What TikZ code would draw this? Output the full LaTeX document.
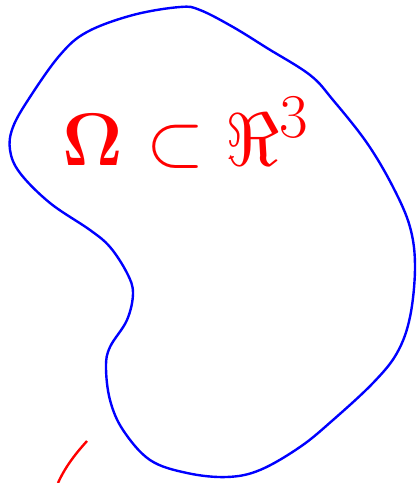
\documentclass[tikz,border=0pt]{standalone}
\usepackage{amsmath}
\begin{document}
\begin{tikzpicture}[x=1pt,y=-1pt,
  region/.style={draw=blue,line width=2.4pt},
  cut/.style={draw=red,line width=2.4pt},
  label/.style={text=red,font=\Huge,inner sep=0pt,scale=3.0}]
\useasboundingbox (0,0) rectangle (416,483);
\draw[region] plot[smooth cycle,tension=0.6] coordinates {
 (13,127) (30,97) (60,55) (87,32) (133,15) (180,7) (200,10) (233,27)
 (267,48) (310,75) (333,100) (367,143) (393,187) (410,227) (415,267)
 (410,317) (397,353) (373,383) (333,420) (300,447) (260,470) (227,477)
 (187,473) (150,460) (123,430) (110,400) (106,367) (110,347) (127,320)
 (133,293) (127,273) (110,247) (90,230) (50,203) (20,173) (10,150)};
\coordinate (c1) at (87,441);
\coordinate (c2) at (58,483);
\draw[cut] (c1) .. controls (78,451) and (66,465) .. (c2);
\node[label,anchor=base west] (t) at (62,165) {$\mathbf{\Omega}\hspace{1pt}\subset\Re^3$};
\end{tikzpicture}
\end{document}
